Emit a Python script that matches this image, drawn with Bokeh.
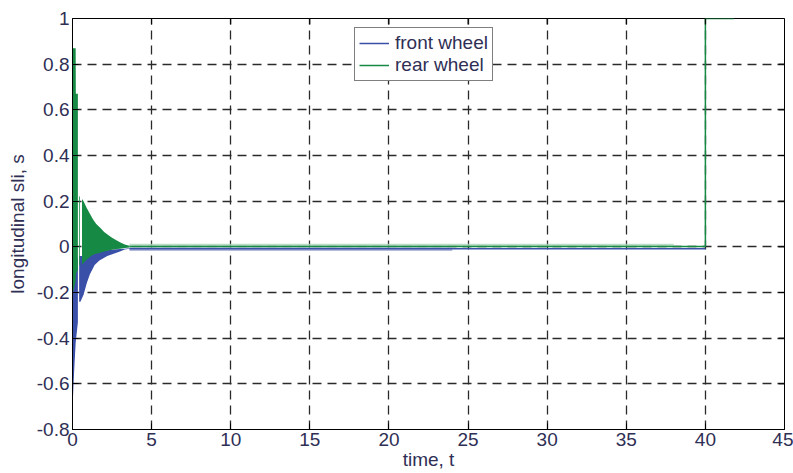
import math
from bokeh.plotting import figure
from bokeh.models import (FixedTicker, NumeralTickFormatter, Legend,
                          LegendItem, Range1d)
from bokeh.embed import file_html
from bokeh.resources import INLINE

# ---- data (envelopes of the fast oscillations) ----
x_ticks = [0, 5, 10, 15, 20, 25, 30, 35, 40, 45]
y_ticks = [-0.8, -0.6, -0.4, -0.2, 0, 0.2, 0.4, 0.6, 0.8, 1]

# rear wheel (green)
rear_t1 = [0.0, 0.02, 0.03, 0.2, 0.21, 0.34]
rear_hi1 = [1.0, 1.0, 0.87, 0.87, 0.67, 0.67]
rear_lo1 = [-0.26, -0.26, -0.2, -0.15, -0.12, -0.1]

rear_t2 = [0.42, 0.47]
rear_hi2 = [0.22, 0.22]
rear_lo2 = [-0.08, -0.08]

rear_t3 = [0.6, 0.7, 0.9, 1.1, 1.3, 1.5, 1.8, 2.0, 2.3, 2.5, 2.8, 3.0, 3.3, 3.6]
rear_hi3 = [0.21, 0.20, 0.17, 0.145, 0.12, 0.10, 0.08, 0.065, 0.05, 0.04, 0.028, 0.02, 0.01, 0.005]
rear_lo3 = [-0.08, -0.07, -0.055, -0.045, -0.035, -0.03, -0.025, -0.02, -0.016, -0.013, -0.01, -0.008, -0.005, -0.003]

rear_band_t = [3.6, 38.0]
rear_band_hi = [0.013, 0.013]
rear_band_lo = [0.0, 0.0]

rear_line_t = [3.6, 40.0, 40.0, 41.8]
rear_line_y = [0.002, 0.002, 1.0, 1.0]

# front wheel (blue)
front_t1 = [0.0, 0.03, 0.1, 0.2, 0.34]
front_hi1 = [-0.05, -0.05, -0.05, -0.05, -0.05]
front_lo1 = [-0.5, -0.66, -0.55, -0.42, -0.33]

front_t2 = [0.42, 0.5, 0.7, 0.9, 1.1, 1.4, 1.7, 2.2, 2.6, 3.0, 3.3, 3.6]
front_hi2 = [-0.04, -0.04, -0.04, -0.035, -0.03, -0.025, -0.02, -0.015, -0.012, -0.01, -0.008, -0.006]
front_lo2 = [-0.24, -0.24, -0.21, -0.16, -0.12, -0.08, -0.06, -0.04, -0.03, -0.02, -0.012, -0.008]

front_band_t = [3.6, 24.0]
front_band_hi = [-0.002, -0.002]
front_band_lo = [-0.018, -0.018]

front_line_t = [3.6, 40.0]
front_line_y = [-0.008, -0.008]

# ---- styles ----
BLUE = "#3a4fa8"
GREEN = "#168a45"
LBLUE = "#b2badd"
LGREEN = "#aad4b6"
TXT = "#2f2f55"
FONT = "Liberation Sans"
FS = "19px"

X0, X1 = 0, 45
Y0, Y1 = -0.8, 1

p = figure(width=793, height=473, x_range=Range1d(X0, X1), y_range=Range1d(Y0, Y1),
           output_backend="svg", toolbar_location=None,
           min_border_left=72, min_border_right=9, min_border_top=18, min_border_bottom=44,
           background_fill_color="white", border_fill_color="white")

p.outline_line_color = "black"
p.outline_line_width = 1

# bands / oscillation envelopes
p.varea(x=front_band_t, y1=front_band_lo, y2=front_band_hi, color=LBLUE)
p.varea(x=rear_band_t, y1=rear_band_lo, y2=rear_band_hi, color=LGREEN, alpha=0.8)
p.varea(x=front_t1, y1=front_lo1, y2=front_hi1, color=BLUE)
p.varea(x=front_t2, y1=front_lo2, y2=front_hi2, color=BLUE)
fl = p.line(front_line_t, front_line_y, color=BLUE, line_width=1.5)
p.varea(x=rear_t1, y1=rear_lo1, y2=rear_hi1, color=GREEN)
p.varea(x=rear_t2, y1=rear_lo2, y2=rear_hi2, color=GREEN)
p.varea(x=rear_t3, y1=rear_lo3, y2=rear_hi3, color=GREEN)
rl = p.line(rear_line_t, rear_line_y, color=GREEN, line_width=1.5)

# axes
for ax in (p.xaxis[0], p.yaxis[0]):
    ax.major_tick_in = 6
    ax.major_tick_out = 0
    ax.minor_tick_in = 0
    ax.minor_tick_out = 0
    ax.axis_line_color = "black"
    ax.major_tick_line_color = "black"
    ax.major_label_text_font = FONT
    ax.major_label_text_font_size = FS
    ax.major_label_text_color = TXT
    ax.axis_label_text_font = FONT
    ax.axis_label_text_font_size = FS
    ax.axis_label_text_font_style = "normal"
    ax.axis_label_text_color = TXT

p.xaxis.ticker = FixedTicker(ticks=x_ticks)
p.yaxis.ticker = FixedTicker(ticks=y_ticks)
p.xaxis.formatter = NumeralTickFormatter(format="0.[0]")
p.yaxis.formatter = NumeralTickFormatter(format="0.[0]")
p.xaxis.axis_label = "time, t"
p.yaxis.axis_label = "longitudinal sli, s"
p.xaxis.major_label_standoff = 3
p.xaxis.axis_label_standoff = 0
p.yaxis.major_label_standoff = 3
p.yaxis.axis_label_standoff = 6

# mirrored inward ticks on the top and right edges (6 px, screen units)
p.ray(x=x_ticks, y=[Y1] * len(x_ticks), length=6, length_units="screen",
      angle=-math.pi / 2, line_color="black", line_width=1)
p.ray(x=[X1] * len(y_ticks), y=y_ticks, length=6, length_units="screen",
      angle=math.pi, line_color="black", line_width=1)

# grid
p.xgrid.ticker = FixedTicker(ticks=x_ticks)
p.ygrid.ticker = FixedTicker(ticks=y_ticks)
for g in (p.xgrid[0], p.ygrid[0]):
    g.grid_line_color = "#2a2a2a"
    g.grid_line_dash = "9 6"
    g.grid_line_width = 1.3

legend = Legend(items=[LegendItem(label="front wheel", renderers=[fl]),
                       LegendItem(label="rear wheel", renderers=[rl])],
                location=(282, 348), orientation="vertical",
                border_line_color="black", border_line_width=1.2,
                background_fill_color="white", background_fill_alpha=1,
                label_text_font=FONT, label_text_font_size=FS, label_text_color=TXT,
                glyph_width=30, glyph_height=22, label_height=22,
                label_standoff=6, padding=4, spacing=0, margin=0)
p.add_layout(legend, "center")

open("out.html", "w").write(file_html(p, INLINE))
